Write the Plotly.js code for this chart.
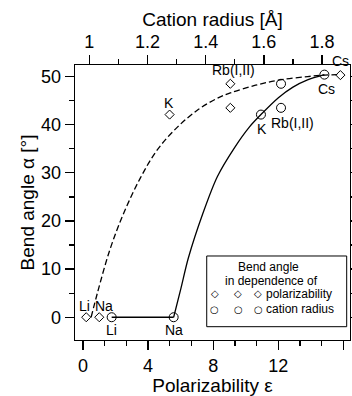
<!DOCTYPE html>
<html><head><meta charset="utf-8">
<script src="https://cdn.plot.ly/plotly-3.0.1.min.js"></script>
<style>body{margin:0;background:#fff}#c{width:352px;height:396px}</style>
</head><body><div id="c"></div>
<script>
// ---- data ----
const polarX = [0.2, 1.0, 5.32, 9.05, 9.05, 15.81];      // polarizability (bottom axis)
const polarY = [0, 0, 42.1, 48.5, 43.5, 50.3];
const polarLabels = ['Li', 'Na', 'K', 'Rb(I,II)', '', 'Cs'];

const radiusX = [1.077, 1.290, 1.590, 1.659, 1.659, 1.808]; // cation radius (top axis)
const radiusY = [0, 0, 42.1, 48.5, 43.5, 50.4];
const radiusLabels = ['Li', 'Na', 'K', '', 'Rb(I,II)', 'Cs'];

const dashX = [0.5, 0.9, 1.65, 2.5, 3.52, 4.55, 5.8, 7.1, 8.2, 9.05, 10.6, 12.1, 13.8, 14.85, 15.8];
const dashY = [0, 5.2, 14.0, 21.6, 28.9, 34.7, 39.5, 43.2, 45.4, 46.6, 48.2, 49.3, 50.0, 50.3, 50.4];

const flatX = [1.077, 1.290];
const flatY = [0, 0];
const solidX = [1.290, 1.315, 1.34, 1.39, 1.44, 1.50, 1.55, 1.59, 1.65, 1.70, 1.75, 1.808];
const solidY = [0, 6.0, 12.2, 21.5, 29.2, 35.3, 39.5, 42.1, 45.6, 47.8, 49.3, 50.4];

const xTitle = 'Polarizability ε';
const x2Title = 'Cation radius [Å]';
const yTitle = 'Bend angle α [°]';
const legendTitle = ['Bend angle', 'in dependence of'];
const legendRows = ['polarizability', 'cation radius'];

// ---- styling ----
const FONT = 'Liberation Sans, Arial, sans-serif';
const LW = 1.3;
const polarOffsets = [[-2, 11], [5, 11], [-1, 12], [3, 14], [0, 0], [0, 14]];
const radiusOffsets = [[0, -13], [0, -13], [1, -14], [0, 0], [11, -15], [2, -14]];

const traces = [
  {x: dashX, y: dashY, xaxis: 'x', yaxis: 'y', mode: 'lines', hoverinfo: 'skip',
   line: {color: '#000', width: LW, dash: '6px,3px', shape: 'spline', smoothing: 1}},
  {x: flatX, y: flatY, xaxis: 'x2', yaxis: 'y', mode: 'lines',
   line: {color: '#000', width: LW}},
  {x: solidX, y: solidY, xaxis: 'x2', yaxis: 'y', mode: 'lines',
   line: {color: '#000', width: LW, shape: 'spline', smoothing: 0.8}},
  {x: polarX, y: polarY, xaxis: 'x', yaxis: 'y', mode: 'markers',
   marker: {symbol: 'diamond-open', size: 7, color: '#000', line: {color: '#000', width: 1}}},
  {x: radiusX, y: radiusY, xaxis: 'x2', yaxis: 'y', mode: 'markers',
   marker: {symbol: 'circle-open', size: 9, color: '#000', line: {color: '#000', width: 1}}}
];

const annotations = [];
const labFont = {family: FONT, size: 14, color: '#000'};
polarLabels.forEach((t, i) => {
  if (!t) return;
  annotations.push({x: polarX[i], y: polarY[i], xref: 'x', yref: 'y', text: t, showarrow: false,
    xanchor: 'center', yanchor: 'middle',
    xshift: polarOffsets[i][0], yshift: polarOffsets[i][1], font: labFont});
});
radiusLabels.forEach((t, i) => {
  if (!t) return;
  annotations.push({x: radiusX[i], y: radiusY[i], xref: 'x2', yref: 'y', text: t, showarrow: false,
    xanchor: 'center', yanchor: 'middle',
    xshift: radiusOffsets[i][0], yshift: radiusOffsets[i][1], font: labFont});
});
// legend box (paper coords)
const lf = {family: FONT, size: 12, color: '#000'};
annotations.push({xref: 'paper', yref: 'paper', x: 0.702, y: 0.2665, xanchor: 'center', yanchor: 'middle',
  text: legendTitle[0], showarrow: false, font: lf});
annotations.push({xref: 'paper', yref: 'paper', x: 0.716, y: 0.2156, xanchor: 'center', yanchor: 'middle',
  text: legendTitle[1], showarrow: false, font: lf});
const symX = [0.509, 0.594, 0.6665];
const rowY = [0.1673, 0.1116];
const syms = ['◇', '○'];
rowY.forEach((ry, r) => {
  symX.forEach(sx => annotations.push({xref: 'paper', yref: 'paper', x: sx, y: ry, text: syms[r],
    xanchor: 'center', yanchor: 'middle',
    showarrow: false, font: {family: 'DejaVu Sans', size: 10, color: '#000'}}));
  annotations.push({xref: 'paper', yref: 'paper', x: 0.687, y: ry, xanchor: 'left', yanchor: 'middle',
    text: legendRows[r], showarrow: false, font: lf});
});

const axisBase = {showgrid: false, zeroline: false, showline: true, linecolor: '#000', linewidth: LW,
  ticks: 'outside', ticklen: 9, tickwidth: LW, tickcolor: '#000',
  tickfont: {family: FONT, size: 18, color: '#000'}};
const titleFont = {family: FONT, size: 19, color: '#000'};

const layout = {
  width: 352, height: 396,
  margin: {l: 75, r: 2, t: 65, b: 56, pad: 0},
  paper_bgcolor: '#fff', plot_bgcolor: '#fff', showlegend: false,
  font: {family: FONT, size: 18, color: '#000'},
  xaxis: Object.assign({}, axisBase, {range: [-0.49, 16.4], tick0: 0, dtick: 4, mirror: false,
    minor: {dtick: 4 / 3, tick0: 0, ticks: 'outside', ticklen: 5, tickwidth: LW, tickcolor: '#000', showgrid: false},
    title: {text: xTitle, font: titleFont, standoff: 2}}),
  xaxis2: Object.assign({}, axisBase, {overlaying: 'x', side: 'top', anchor: 'y', range: [0.951, 1.896],
    tick0: 1, dtick: 0.2,
    minor: {dtick: 0.1, ticks: 'outside', ticklen: 5, tickwidth: LW, tickcolor: '#000', showgrid: false},
    title: {text: x2Title, font: titleFont, standoff: 0}}),
  yaxis: Object.assign({}, axisBase, {range: [-4.73, 52.4], tick0: 0, dtick: 10, mirror: 'ticks',
    minor: {dtick: 5, ticks: 'outside', ticklen: 5, tickwidth: LW, tickcolor: '#000', showgrid: false},
    title: {text: yTitle, font: titleFont, standoff: 1}}),
  shapes: [{type: 'rect', xref: 'paper', yref: 'paper', x0: 0.479, x1: 0.988, y0: 0.0484, y1: 0.3055,
    line: {color: '#000', width: 1}, fillcolor: 'rgba(0,0,0,0)'}],
  annotations: annotations
};

Plotly.newPlot('c', traces, layout, {staticPlot: true});
</script></body></html>
